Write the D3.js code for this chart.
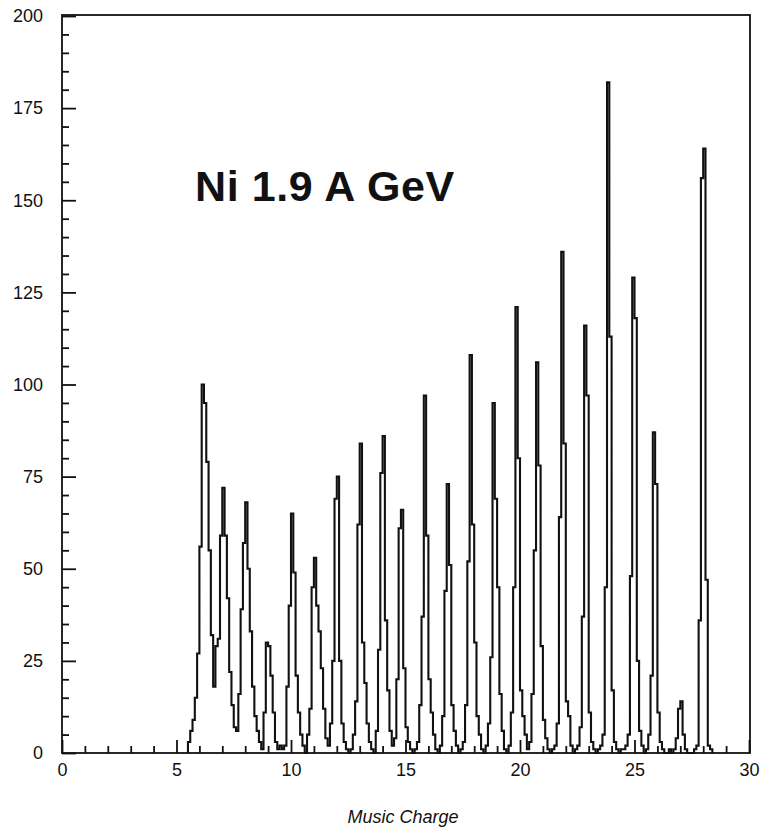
<!DOCTYPE html>
<html>
<head>
<meta charset="utf-8">
<script src="https://cdn.jsdelivr.net/npm/d3@7"></script>
<style>
  html, body { margin: 0; padding: 0; background: #fff; }
  svg { display: block; }
  text { font-family: "Liberation Sans", Arial, Helvetica, sans-serif; fill: #111; }
</style>
</head>
<body>
<svg id="chart" width="764" height="829"></svg>
<script>
// Histogram of MUSIC charge for Ni at 1.9 A GeV, 0.1-wide bins starting at Z = 5.5
const binStart = 5.5;
const binWidth = 0.1;
const counts = [
  3, 6, 9, 15, 27,                              // 5.5 - 5.9
  56, 100, 95, 79, 55, 32, 18, 29, 31, 59,      // 6.0 - 6.9
  72, 59, 42, 22, 13, 7, 6, 16, 39, 57,         // 7.0 - 7.9
  68, 50, 33, 18, 10, 6, 3, 1, 11, 30,          // 8.0 - 8.9
  29, 21, 11, 3, 1, 2, 1, 2, 18, 40,            // 9.0 - 9.9
  65, 49, 21, 11, 5, 2, 0, 5, 12, 45,           // 10.0 - 10.9
  53, 40, 33, 23, 12, 4, 2, 8, 25, 69,          // 11.0 - 11.9
  75, 25, 8, 3, 1, 0, 1, 5, 14, 62,             // 12.0 - 12.9
  84, 30, 19, 8, 3, 1, 0, 6, 28, 76,            // 13.0 - 13.9
  86, 36, 17, 6, 2, 4, 20, 61, 66, 23,          // 14.0 - 14.9
  7, 3, 1, 0, 1, 3, 13, 37, 97, 59,             // 15.0 - 15.9
  20, 11, 5, 1, 0, 2, 10, 44, 73, 51,           // 16.0 - 16.9
  13, 6, 2, 0, 1, 3, 13, 52, 108, 62,           // 17.0 - 17.9
  30, 10, 5, 1, 0, 2, 8, 26, 95, 69,            // 18.0 - 18.9
  45, 16, 6, 1, 0, 2, 11, 45, 121, 80,          // 19.0 - 19.9
  17, 10, 5, 1, 3, 16, 55, 106, 78, 29,         // 20.0 - 20.9
  9, 4, 1, 0, 1, 2, 8, 64, 136, 84,             // 21.0 - 21.9
  14, 10, 2, 0, 1, 2, 7, 37, 116, 97,           // 22.0 - 22.9
  11, 3, 1, 0, 1, 2, 5, 45, 182, 113,           // 23.0 - 23.9
  17, 3, 1, 0, 1, 1, 2, 5, 48, 129,             // 24.0 - 24.9
  118, 25, 6, 2, 0, 1, 5, 21, 87, 73,           // 25.0 - 25.9
  11, 3, 1, 0, 0, 1, 0, 1, 4, 12,               // 26.0 - 26.9
  14, 5, 1, 0, 0, 0, 1, 2, 36, 156,             // 27.0 - 27.9
  164, 47, 2, 1                                 // 28.0 - 28.3
];

const xDomain = [0, 30];
const yDomain = [0, 200];
const xMajorTicks = [0, 5, 10, 15, 20, 25, 30];
const xMinorTicks = d3.range(0, 31).filter(v => v % 5 !== 0);
const yMajorTicks = [0, 25, 50, 75, 100, 125, 150, 175, 200];
const yMinorTicks = d3.range(0, 201, 5).filter(v => v % 25 !== 0);
const titleText = "Ni 1.9 A GeV";
const xAxisTitle = "Music Charge";

const svg = d3.select("#chart");
const frameL = 62, frameR = 750, frameT = 15, frameB = 753;

const x = d3.scaleLinear().domain(xDomain).range([62, 749]);
const y = d3.scaleLinear().domain(yDomain).range([frameB, 16]);

// frame
svg.append("rect")
  .attr("x", frameL).attr("y", frameT)
  .attr("width", frameR - frameL).attr("height", frameB - frameT)
  .attr("fill", "none").attr("stroke", "#111").attr("stroke-width", 1.8);

// y axis: major ticks with labels, minor ticks without; all pointing inward
const yMajor = svg.append("g").attr("transform", `translate(${frameL},0)`)
  .call(d3.axisLeft(y).tickValues(yMajorTicks).tickSize(-14).tickPadding(19).tickFormat(d3.format("d")));
const yMinor = svg.append("g").attr("transform", `translate(${frameL},0)`)
  .call(d3.axisLeft(y).tickValues(yMinorTicks).tickSize(-7).tickFormat(""));

// x axis
const xMajor = svg.append("g").attr("transform", `translate(0,${frameB})`)
  .call(d3.axisBottom(x).tickValues(xMajorTicks).tickSize(-13).tickPadding(10).tickFormat(d3.format("d")));
const xMinor = svg.append("g").attr("transform", `translate(0,${frameB})`)
  .call(d3.axisBottom(x).tickValues(xMinorTicks).tickSize(-7).tickFormat(""));

[yMajor, yMinor, xMajor, xMinor].forEach(g => {
  g.select(".domain").remove();
  g.selectAll(".tick line").attr("stroke", "#111").attr("stroke-width", 1.8);
  g.selectAll(".tick text").attr("font-size", 18).attr("fill", "#111");
});

// histogram outline as a step line
const pts = [[binStart, 0]];
counts.forEach((c, i) => pts.push([binStart + i * binWidth, c]));
const binEnd = binStart + counts.length * binWidth;
pts.push([binEnd, 0]);

const line = d3.line()
  .x(d => x(d[0]))
  .y(d => y(d[1]))
  .curve(d3.curveStepAfter);

svg.append("path")
  .datum(pts)
  .attr("d", line)
  .attr("fill", "none")
  .attr("stroke", "#111")
  .attr("stroke-width", 2.1)
  .attr("stroke-linejoin", "miter");

// labels
svg.append("text")
  .attr("x", 195).attr("y", 201)
  .attr("font-size", 43).attr("font-weight", "bold")
  .attr("letter-spacing", 0.6)
  .text(titleText);

svg.append("text")
  .attr("x", 403).attr("y", 823)
  .attr("text-anchor", "middle")
  .attr("font-size", 18).attr("font-style", "italic")
  .text(xAxisTitle);
</script>
</body>
</html>
